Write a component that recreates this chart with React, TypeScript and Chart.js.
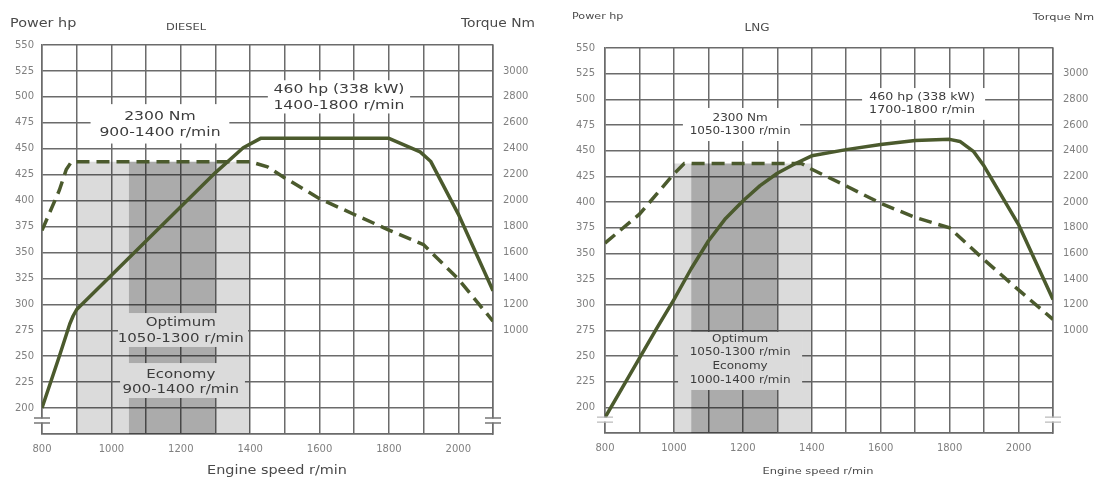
import React, { useEffect, useRef } from "react";
import { Chart, registerables } from "chart.js";

Chart.register(...registerables);

// ---------------- Data ----------------
// DIESEL
const dieselPowerRpm = [800, 850, 880, 890, 900, 1000, 1100, 1200, 1300, 1380, 1430, 1800, 1890, 1920, 2000, 2100];
const dieselPowerHp = [200, 250, 281, 289, 295, 328, 361, 394, 427, 451, 460, 460, 447, 438, 387, 313];
const dieselTorqueRpm = [800, 850, 870, 885, 1400, 1450, 1500, 1600, 1700, 1800, 1900, 2000, 2100];
const dieselTorqueNm = [1770, 2080, 2240, 2300, 2300, 2260, 2175, 2015, 1893, 1773, 1660, 1395, 1070];
const dieselEconomyRange = [900, 1400];
const dieselOptimumRange = [1050, 1300];

// LNG
const lngPowerRpm = [800, 850, 900, 950, 1000, 1050, 1100, 1150, 1200, 1250, 1300, 1350, 1400, 1500, 1600, 1700, 1800, 1830, 1870, 1900, 2000, 2100];
const lngPowerHp = [190, 219, 248, 277, 305, 335, 362, 384, 401, 416, 428, 437, 445, 451, 456, 460, 461, 459, 449, 435, 378, 305];
const lngTorqueRpm = [800, 900, 1000, 1030, 1370, 1400, 1500, 1600, 1700, 1800, 1900, 2000, 2100];
const lngTorqueNm = [1680, 1905, 2220, 2300, 2300, 2255, 2125, 1990, 1880, 1798, 1550, 1315, 1085];
const lngEconomyRange = [1000, 1400];
const lngOptimumRange = [1050, 1300];

// Shared
const bandTopNm = 2300;
const rpmMin = 800, rpmMax = 2100, rpmStep = 100, rpmLabelStep = 200, rpmLabelMax = 2000;
const hpMin = 175, hpMax = 550, hpStep = 25, hpLabelMin = 200;
const nmMin = 200, nmMax = 3200, nmStep = 200, nmLabelMin = 1000, nmLabelMax = 3000;
const breakHp = 188;

// Annotation texts (positions in data units: rpm / hp)
const dieselNotes = [
  { lines: ["2300 Nm", "900-1400 r/min"], box: [940, 1340, 493, 455], at: [1140, 473], size: 13, gap: 16, fill: "#ffffff" },
  { lines: ["460 hp (338 kW)", "1400-1800 r/min"], box: [1451, 1861, 516, 484], at: [1656, 499], size: 13, gap: 16, fill: "#ffffff" },
  { lines: ["Optimum", "1050-1300 r/min"], box: [1019, 1394, 291.6, 258.9], at: [1200, 274.3], size: 12.5, gap: 16, fill: "#dbdbdb" },
  { lines: ["Economy", "900-1400 r/min"], box: [1025, 1385, 243.4, 209.7], at: [1200, 224.6], size: 12.5, gap: 15, fill: "#dbdbdb" },
];
const lngNotes = [
  { lines: ["2300 Nm", "1050-1300 r/min"], box: [1026, 1366, 491.6, 459.4], at: [1192, 475.5], size: 10, gap: 13, fill: "#ffffff" },
  { lines: ["460 hp (338 kW)", "1700-1800 r/min"], box: [1546, 1903, 511, 480], at: [1720, 496], size: 10.5, gap: 13, fill: "#ffffff" },
  { lines: ["Optimum", "1050-1300 r/min", "Economy", "1000-1400 r/min"], box: [1012, 1372, 273.4, 216.9], at: [1192, 246.6], size: 10, gap: 13.7, fill: "#dbdbdb" },
];

const LINE = "#4b5a2d";
const GRID = "#6b6b6b";
const TICK = "#808080";
const TEXT = "#3c3c3c";
const FONT = '"DejaVu Sans", "Liberation Sans", sans-serif';
const STRETCH = 1.2;

function pts(xs: number[], ys: number[]) {
  return xs.map((x, i) => ({ x, y: ys[i] }));
}

function drawText(ctx: CanvasRenderingContext2D, text: string, x: number, y: number, size: number, color: string, align: CanvasTextAlign = "center", stretch = STRETCH) {
  ctx.save();
  ctx.font = `${size}px ${FONT}`;
  ctx.fillStyle = color;
  ctx.textBaseline = "middle";
  ctx.textAlign = align;
  ctx.translate(x, y);
  ctx.scale(stretch, 1);
  ctx.fillText(text, 0, 0);
  ctx.restore();
}

type Cfg = {
  left: number;
  width: number;
  padTop: number;
  yWidth: number;
  y1Width: number;
  xHeight: number;
  tickPadY: number;
  tickPadY1: number;
  powerRpm: number[];
  powerHp: number[];
  torqueRpm: number[];
  torqueNm: number[];
  economy: number[];
  optimum: number[];
  notes: typeof dieselNotes;
  headers: { text: string; x: number; y: number; size: number; align: CanvasTextAlign }[];
  breakColor: string;
};

function buildChart(canvas: HTMLCanvasElement, c: Cfg) {
  const decor = {
    id: "decor",
    afterDatasetsDraw(chart: any) {
      const { ctx, scales } = chart;
      const x = scales.x, y = scales.y;
      for (const n of c.notes) {
        const x1 = x.getPixelForValue(n.box[0]);
        const x2 = x.getPixelForValue(n.box[1]);
        const y1 = y.getPixelForValue(n.box[2]);
        const y2 = y.getPixelForValue(n.box[3]);
        ctx.save();
        ctx.fillStyle = n.fill;
        ctx.fillRect(x1, y1, x2 - x1, y2 - y1);
        ctx.restore();
        const cx = x.getPixelForValue(n.at[0]);
        const cy = y.getPixelForValue(n.at[1]);
        const start = cy - ((n.lines.length - 1) * n.gap) / 2;
        n.lines.forEach((t, i) => drawText(ctx, t, cx, start + i * n.gap, n.size, TEXT));
      }
    },
    afterDraw(chart: any) {
      const { ctx, chartArea, scales } = chart;
      const yb = scales.y.getPixelForValue(breakHp);
      for (const bx of [chartArea.left, chartArea.right]) {
        ctx.save();
        ctx.fillStyle = "#ffffff";
        ctx.fillRect(bx - 3, yb - 2, 6, 4);
        ctx.strokeStyle = c.breakColor;
        ctx.lineWidth = 1.3;
        ctx.beginPath();
        ctx.moveTo(bx - 8, yb - 2.5);
        ctx.lineTo(bx + 8, yb - 2.5);
        ctx.moveTo(bx - 8, yb + 2.5);
        ctx.lineTo(bx + 8, yb + 2.5);
        ctx.stroke();
        ctx.restore();
      }
      for (const h of c.headers) drawText(ctx, h.text, h.x, h.y, h.size, "#4a4a4a", h.align);
    },
  };

  const band = (r: number[], color: string, order: number) => ({
    type: "line" as const,
    label: "band",
    data: [{ x: r[0], y: bandTopNm }, { x: r[1], y: bandTopNm }],
    yAxisID: "y1",
    fill: "start",
    backgroundColor: color,
    borderWidth: 0,
    pointRadius: 0,
    order,
  });

  return new Chart(canvas, {
    type: "line",
    data: {
      datasets: [
        {
          label: "Power hp",
          data: pts(c.powerRpm, c.powerHp),
          yAxisID: "y",
          borderColor: LINE,
          borderWidth: 3.5,
          pointRadius: 0,
          tension: 0,
          fill: false,
          borderJoinStyle: "round",
          order: 0,
        },
        {
          label: "Torque Nm",
          data: pts(c.torqueRpm, c.torqueNm),
          yAxisID: "y1",
          borderColor: LINE,
          borderWidth: 3.5,
          borderDash: [13, 7],
          pointRadius: 0,
          tension: 0,
          fill: false,
          order: 1,
        },
        band(c.optimum, "rgba(0,0,0,0.22)", 2),
        band(c.economy, "rgba(0,0,0,0.14)", 3),
      ] as any,
    },
    options: {
      responsive: false,
      maintainAspectRatio: false,
      animation: false,
      layout: { padding: { top: c.padTop, left: 0, right: 0, bottom: 0 } },
      plugins: { legend: { display: false }, tooltip: { enabled: false }, title: { display: false } },
      scales: {
        x: {
          type: "linear",
          min: rpmMin,
          max: rpmMax,
          afterFit: (s: any) => { s.height = c.xHeight; },
          ticks: {
            stepSize: rpmStep,
            autoSkip: false,
            maxRotation: 0,
            padding: 9,
            color: TICK,
            font: { family: FONT, size: 10 },
            callback: (v: any) => (v % rpmLabelStep === 0 && v <= rpmLabelMax ? String(v) : ""),
          },
          grid: { color: GRID, lineWidth: 1.5, drawTicks: false },
          border: { display: true, color: GRID, width: 1.5 },
        },
        y: {
          type: "linear",
          position: "left",
          min: hpMin,
          max: hpMax,
          afterFit: (s: any) => { s.width = c.yWidth; },
          ticks: {
            stepSize: hpStep,
            padding: c.tickPadY,
            color: TICK,
            font: { family: FONT, size: 10 },
            callback: (v: any) => (v >= hpLabelMin ? String(v) : ""),
          },
          grid: { color: GRID, lineWidth: 1.5, drawTicks: false },
          border: { display: true, color: GRID, width: 1.5 },
        },
        y1: {
          type: "linear",
          position: "right",
          min: nmMin,
          max: nmMax,
          afterFit: (s: any) => { s.width = c.y1Width; },
          ticks: {
            stepSize: nmStep,
            padding: c.tickPadY1,
            color: TICK,
            font: { family: FONT, size: 10 },
            callback: (v: any) => (v >= nmLabelMin && v <= nmLabelMax ? String(v) : ""),
          },
          grid: { drawOnChartArea: false, drawTicks: false },
          border: { display: true, color: GRID, width: 1.5 },
        },
      },
    } as any,
    plugins: [decor],
  });
}

const dieselCfg: Cfg = {
  left: 0,
  width: 550,
  padTop: 45,
  yWidth: 42,
  y1Width: 57,
  xHeight: 46,
  tickPadY: 8,
  tickPadY1: 10,
  powerRpm: dieselPowerRpm,
  powerHp: dieselPowerHp,
  torqueRpm: dieselTorqueRpm,
  torqueNm: dieselTorqueNm,
  economy: dieselEconomyRange,
  optimum: dieselOptimumRange,
  notes: dieselNotes,
  headers: [
    { text: "Power hp", x: 10, y: 24, size: 12, align: "left" },
    { text: "DIESEL", x: 186, y: 28, size: 9.5, align: "center" },
    { text: "Torque Nm", x: 535, y: 24, size: 11.5, align: "right" },
    { text: "Engine speed r/min", x: 277, y: 471, size: 12, align: "center" },
  ],
  breakColor: "#777777",
};

const lngCfg: Cfg = {
  left: 550,
  width: 551,
  padTop: 48,
  yWidth: 55,
  y1Width: 48,
  xHeight: 47,
  tickPadY: 10,
  tickPadY1: 10,
  powerRpm: lngPowerRpm,
  powerHp: lngPowerHp,
  torqueRpm: lngTorqueRpm,
  torqueNm: lngTorqueNm,
  economy: lngEconomyRange,
  optimum: lngOptimumRange,
  notes: lngNotes,
  headers: [
    { text: "Power hp", x: 22, y: 17, size: 9.3, align: "left" },
    { text: "LNG", x: 207, y: 28, size: 10, align: "center" },
    { text: "Torque Nm", x: 544, y: 18, size: 9.5, align: "right" },
    { text: "Engine speed r/min", x: 268, y: 472, size: 9.5, align: "center" },
  ],
  breakColor: "#bbbbbb",
};

function EngineChart({ cfg }: { cfg: Cfg }) {
  const ref = useRef<HTMLCanvasElement>(null);
  useEffect(() => {
    const chart = buildChart(ref.current as HTMLCanvasElement, cfg);
    return () => chart.destroy();
  }, [cfg]);
  return (
    <canvas
      ref={ref}
      width={cfg.width}
      height={480}
      style={{ position: "absolute", left: cfg.left, top: 0, width: cfg.width, height: 480, display: "block" }}
    />
  );
}

export default function App() {
  return (
    <div style={{ position: "fixed", left: 0, top: 0, width: 1101, height: 480, background: "#ffffff", overflow: "hidden" }}>
      <EngineChart cfg={dieselCfg} />
      <EngineChart cfg={lngCfg} />
    </div>
  );
}
